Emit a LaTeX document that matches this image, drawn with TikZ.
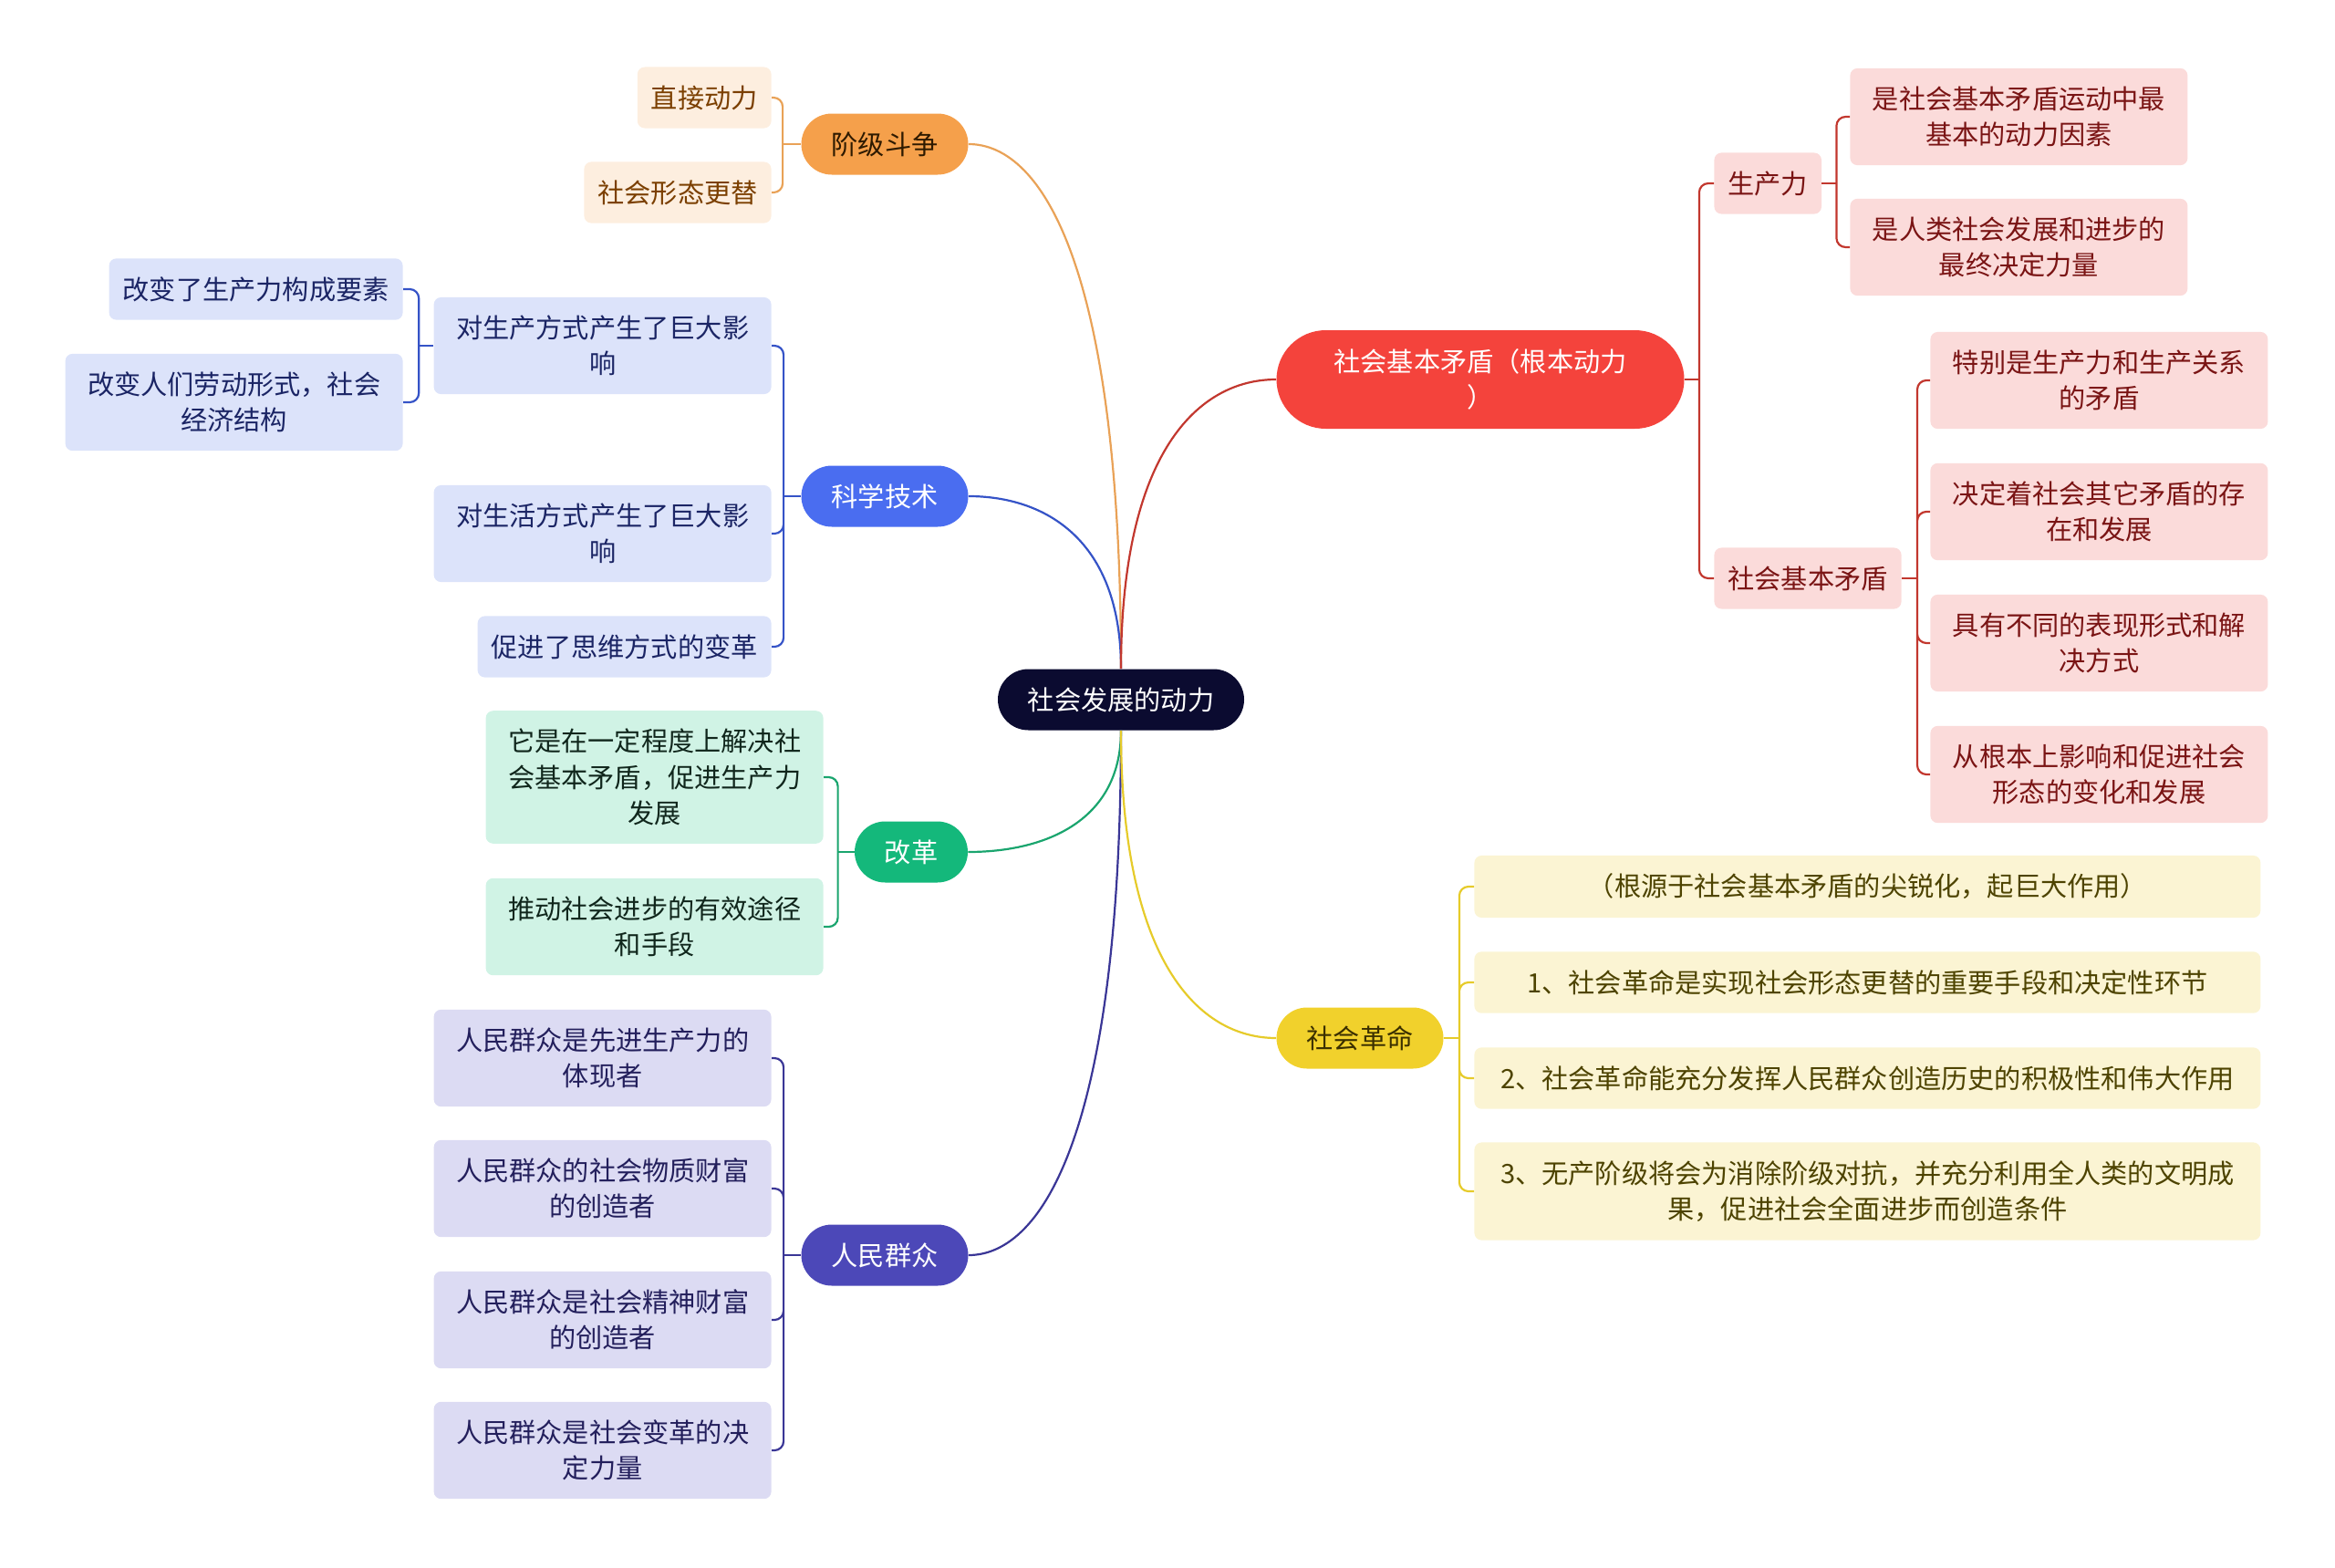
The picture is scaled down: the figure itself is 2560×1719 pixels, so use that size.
\documentclass[tikz,border=0pt]{standalone}
\usepackage{fontspec}
\setmainfont{Noto Sans CJK SC}
\usepackage{xcolor}
\usetikzlibrary{calc}

\definecolor{rootFill}{HTML}{0B0B30}
\definecolor{oMain}{HTML}{F5A04B}
\definecolor{oLight}{HTML}{FDEEDF}
\definecolor{oText}{HTML}{7B3F00}
\definecolor{oDark}{HTML}{2E1A00}
\definecolor{oLine}{HTML}{E9A257}
\definecolor{bMain}{HTML}{4A6DF0}
\definecolor{bLight}{HTML}{DCE3FA}
\definecolor{bText}{HTML}{1B2565}
\definecolor{bLine}{HTML}{3553C7}
\definecolor{gMain}{HTML}{14B87B}
\definecolor{gLight}{HTML}{D0F3E5}
\definecolor{gText}{HTML}{10261C}
\definecolor{gLine}{HTML}{1AA56E}
\definecolor{iMain}{HTML}{4C48B8}
\definecolor{iLight}{HTML}{DCDBF3}
\definecolor{iText}{HTML}{231F5C}
\definecolor{iLine}{HTML}{3A3696}
\definecolor{rMain}{HTML}{F4433C}
\definecolor{rLight}{HTML}{FBDBDA}
\definecolor{rText}{HTML}{7A1414}
\definecolor{rLine}{HTML}{C2372E}
\definecolor{yMain}{HTML}{F1D12C}
\definecolor{yLight}{HTML}{FBF4D3}
\definecolor{yText}{HTML}{4D4300}
\definecolor{yDark}{HTML}{3B3000}
\definecolor{yLine}{HTML}{E6CB2A}

\begin{document}
\begin{tikzpicture}[
	x=0.5pt, y=-0.5pt,
	font=\fontsize{14.6pt}{19.6pt}\selectfont,
	root/.style={
		fill=rootFill, text=white, rectangle, rounded corners=16.75pt,
		minimum width=135pt, minimum height=33.5pt, inner sep=0pt
	},
	main/.style={
		rectangle, rounded corners=16.75pt,
		minimum width=91.5pt, minimum height=33.5pt,
		inner sep=0pt, align=center
	},
	leaf/.style={
		rectangle, rounded corners=4pt,
		minimum height=33.5pt, inner xsep=7.5pt, inner ysep=10pt, align=center
	},
	wide/.style={leaf, text width=170pt},
	oleaf/.style={leaf, fill=oLight, text=oText},
	bleaf/.style={leaf, fill=bLight, text=bText},
	bwide/.style={wide, fill=bLight, text=bText},
	gwide/.style={wide, fill=gLight, text=gText},
	iwide/.style={wide, fill=iLight, text=iText},
	rleaf/.style={leaf, fill=rLight, text=rText},
	rwide/.style={wide, fill=rLight, text=rText},
	yleaf/.style={leaf, text width=416pt, fill=yLight, text=yText},
	oline/.style={draw=oLine, line width=1.1pt},
	bline/.style={draw=bLine, line width=1.1pt},
	gline/.style={draw=gLine, line width=1.1pt},
	iline/.style={draw=iLine, line width=1.1pt},
	rline/.style={draw=rLine, line width=1.1pt},
	yline/.style={draw=yLine, line width=1.1pt},
	branch/.style={to path={.. controls ($(\tikztostart)!0.75!(\tikztostart |- \tikztotarget)$)
		and ($(\tikztotarget)!0.5!(\tikztostart |- \tikztotarget)$) .. (\tikztotarget)}},
	]
	
	\useasboundingbox (0,0) rectangle (2560,1719);
	
	% Centre
	\node[root] (root) at (1229,767) {社会发展的动力};
	
	% Class struggle (upper left)
	\node[main, fill=oMain, text=oDark] (jieji) at (970,158) {阶级斗争};
	\node[oleaf, anchor=east] (zhijie) at (846,107) {直接动力};
	\node[oleaf, anchor=east] (gengti) at (846,211) {社会形态更替};
	
	% Science and technology
	\node[main, fill=bMain, text=white] (keji) at (970,544) {科学技术};
	\node[bwide, anchor=east] (shengchan) at (846,379) {对生产方式产生了巨大影\\响};
	\node[bleaf, anchor=east] (yaosu)     at (442,317) {改变了生产力构成要素};
	\node[bwide, anchor=east] (jiegou)    at (442,441) {改变人们劳动形式，社会\\经济结构};
	\node[bwide, anchor=east] (shenghuo)  at (846,585) {对生活方式产生了巨大影\\响};
	\node[bleaf, anchor=east] (siwei)     at (846,709) {促进了思维方式的变革};
	
	% Reform
	\node[main, fill=gMain, text=white, minimum width=62pt] (gaige) at (999,934) {改革};
	\node[gwide, anchor=east] (jiejue) at (903,852)  {它是在一定程度上解决社\\会基本矛盾，促进生产力\\发展};
	\node[gwide, anchor=east] (tujing) at (903,1016) {推动社会进步的有效途径\\和手段};
	
	% The people
	\node[main, fill=iMain, text=white] (renmin) at (970,1376) {人民群众};
	\node[iwide, anchor=east] (tixian)   at (846,1160) {人民群众是先进生产力的\\体现者};
	\node[iwide, anchor=east] (wuzhi)    at (846,1303) {人民群众的社会物质财富\\的创造者};
	\node[iwide, anchor=east] (jingshen) at (846,1447) {人民群众是社会精神财富\\的创造者};
	\node[iwide, anchor=east] (biange)   at (846,1590) {人民群众是社会变革的决\\定力量};
	
	% Basic contradiction (upper right)
	\node[main, fill=rMain, text=white, minimum width=223.5pt, minimum height=54pt,
	rounded corners=27pt] (maodun) at (1623,416) {社会基本矛盾（根本动力\\）};
	\node[rleaf, anchor=west] (scl)     at (1879,201) {生产力};
	\node[rwide, anchor=west] (yinsu)   at (2028,128) {是社会基本矛盾运动中最\\基本的动力因素};
	\node[rwide, anchor=west] (juece)   at (2028,271) {是人类社会发展和进步的\\最终决定力量};
	\node[rleaf, anchor=west] (jbmd)    at (1879,634) {社会基本矛盾};
	\node[rwide, anchor=west] (guanxi)  at (2116,417) {特别是生产力和生产关系\\的矛盾};
	\node[rwide, anchor=west] (cunzai)  at (2116,561) {决定着社会其它矛盾的存\\在和发展};
	\node[rwide, anchor=west] (fangshi) at (2116,705) {具有不同的表现形式和解\\决方式};
	\node[rwide, anchor=west] (xingtai) at (2116,849) {从根本上影响和促进社会\\形态的变化和发展};
	
	% Social revolution (lower right)
	\node[main, fill=yMain, text=yDark] (geming) at (1491,1138) {社会革命};
	\node[yleaf, anchor=west] (genyuan) at (1616,972)  {（根源于社会基本矛盾的尖锐化，起巨大作用）};
	\node[yleaf, anchor=west] (gm1)     at (1616,1077) {1、社会革命是实现社会形态更替的重要手段和决定性环节};
	\node[yleaf, anchor=west] (gm2)     at (1616,1182) {2、社会革命能充分发挥人民群众创造历史的积极性和伟大作用};
	\node[yleaf, anchor=west] (gm3)     at (1616,1306) {3、无产阶级将会为消除阶级对抗，并充分利用全人类的文明成\\果，促进社会全面进步而创造条件};
	
	% Centre -> topics
	\draw[oline, branch] (root.north) to (jieji.east);
	\draw[bline, branch] (root.north) to (keji.east);
	\draw[rline, branch] (root.north) to (maodun.west);
	\draw[gline, branch] (root.south) to (gaige.east);
	\draw[iline, branch] (root.south) to (renmin.east);
	\draw[yline, branch] (root.south) to (geming.west);
	
	% Topic -> details (brackets)
	\draw[oline] (jieji.west) -- ++(-20,0) coordinate (jb);
	\draw[oline, rounded corners=5pt] (jb) |- (zhijie.east) (jb) |- (gengti.east);
	
	\draw[bline] (keji.west) -- ++(-19,0) coordinate (kb);
	\draw[bline, rounded corners=5pt] (kb) |- (shengchan.east) (kb) |- (shenghuo.east) (kb) |- (siwei.east);
	\draw[bline] (shengchan.west) -- ++(-16,0) coordinate (sb);
	\draw[bline, rounded corners=5pt] (sb) |- (yaosu.east) (sb) |- (jiegou.east);
	
	\draw[gline] (gaige.west) -- ++(-18,0) coordinate (gb);
	\draw[gline, rounded corners=5pt] (gb) |- (jiejue.east) (gb) |- (tujing.east);
	
	\draw[iline] (renmin.west) -- ++(-19,0) coordinate (rb);
	\draw[iline, rounded corners=5pt] (rb) |- (tixian.east) (rb) |- (wuzhi.east)
	(rb) |- (jingshen.east) (rb) |- (biange.east);
	
	\draw[rline] (maodun.east) -- ++(16,0) coordinate (mb);
	\draw[rline, rounded corners=5pt] (mb) |- (scl.west) (mb) |- (jbmd.west);
	\draw[rline] (scl.west -| scl.east) -- ++(16,0) coordinate (pb);
	\draw[rline, rounded corners=5pt] (pb) |- (yinsu.west) (pb) |- (juece.west);
	\draw[rline] (jbmd.east) -- ++(17,0) coordinate (db);
	\draw[rline, rounded corners=5pt] (db) |- (guanxi.west) (db) |- (cunzai.west)
	(db) |- (fangshi.west) (db) |- (xingtai.west);
	
	\draw[yline] (geming.east) -- ++(17,0) coordinate (yb);
	\draw[yline, rounded corners=5pt] (yb) |- (genyuan.west) (yb) |- (gm1.west)
	(yb) |- (gm2.west) (yb) |- (gm3.west);
	
\end{tikzpicture}
\end{document}
